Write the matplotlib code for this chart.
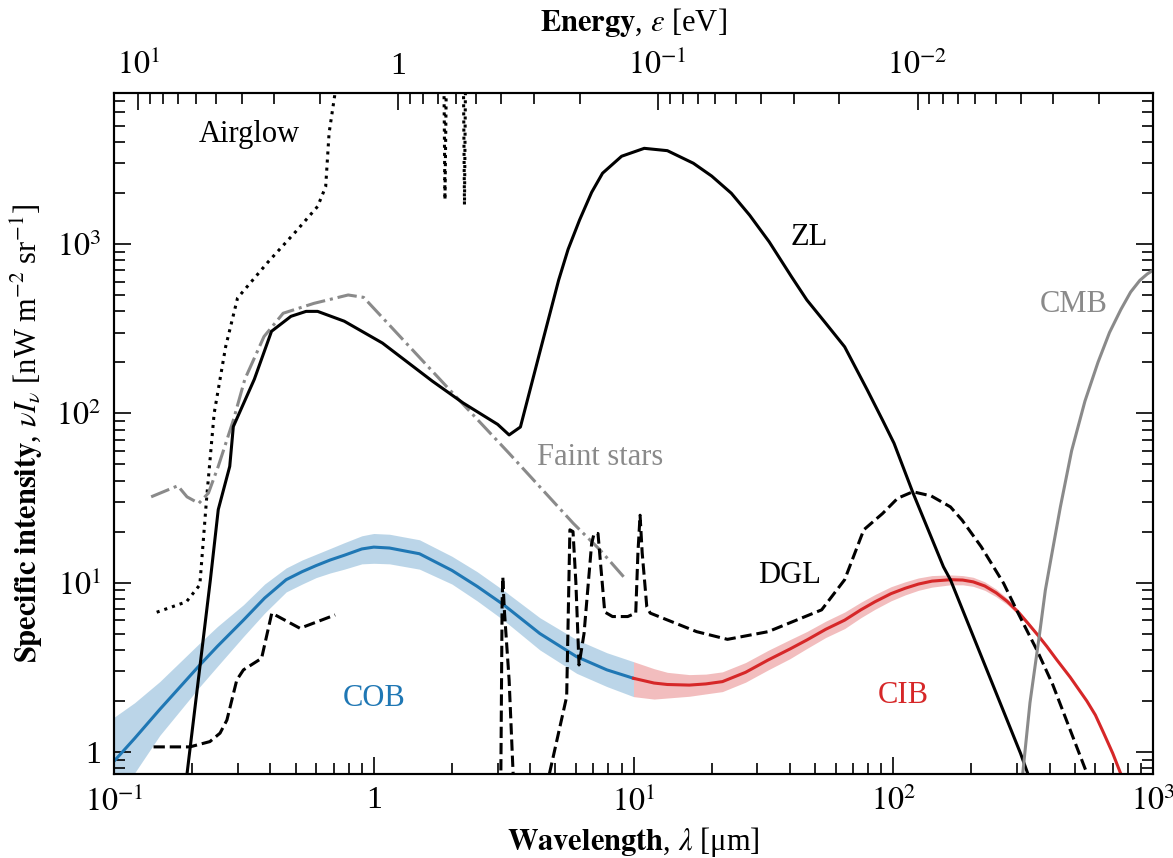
import numpy as np
import matplotlib
matplotlib.use('Agg')
import matplotlib.pyplot as plt
from matplotlib.ticker import NullFormatter, LogLocator

plt.rcParams['font.family'] = 'serif'
plt.rcParams['font.serif'] = ['Liberation Serif', 'DejaVu Serif']
plt.rcParams['mathtext.fontset'] = 'stix'

HC = 1.23984  # eV * um

# --- data (wavelength in um, nu I_nu in nW m^-2 sr^-1) ---
# zodiacal light
zl_wl = [0.191, 0.235, 0.252, 0.279, 0.288, 0.347, 0.404, 0.48, 0.549, 0.608, 0.77,
         1.08, 1.68, 2.21, 3.0, 3.32, 3.67, 4.35, 5.15, 5.6, 6.2, 6.9, 7.6, 9.0, 11.0,
         13.5, 17.0, 20.0, 23.8, 28.0, 33.3, 40.6, 46.5, 55, 65, 79.5, 91, 100.7, 119,
         156, 166, 309, 330]
zl = [0.74, 10.4, 27, 48.6, 83.5, 159, 305, 374, 400, 400, 350,
      260, 155, 115, 86, 74.5, 83, 227, 612, 930, 1387, 2020, 2620, 3300, 3675,
      3560, 3000, 2520, 1995, 1480, 1030, 640, 467, 340, 247, 137, 91, 66.5, 34,
      12.4, 10.4, 0.98, 0.74]

# airglow (NaN separates the pieces)
air_wl = [0.146, 0.19, 0.214, 0.2275, 0.243, 0.269, 0.299, 0.391, 0.5, 0.608, 0.653,
          0.673, 0.707, 0.75,
          np.nan, 1.85, 1.88, 1.92, np.nan, 2.2, 2.235, 2.27]
air = [6.68, 7.7, 9.7, 32, 100, 247, 480, 780, 1180, 1667, 2180,
       4520, 7500, 30000,
       np.nan, 30000, 1820, 30000, np.nan, 30000, 1700, 30000]

# faint stars
fs_wl = [0.139, 0.176, 0.191, 0.212, 0.231, 0.252, 0.288, 0.319, 0.378, 0.448, 0.588,
         0.797, 0.914, 2.13, 3.32, 5.86, 7.43, 9.27]
fs = [32.1, 37.3, 32.1, 29.4, 33.8, 48.6, 91, 159, 284, 390, 446,
      500, 484, 120, 58, 22.4, 15.6, 10.6]

# diffuse galactic light
dgl_wl = [0.142, 0.196, 0.234, 0.256, 0.272, 0.297, 0.315, 0.37, 0.405, 0.52, 0.71,
          np.nan, 3.08, 3.12, 3.14, 3.18, 3.32, 3.5,
          np.nan, 4.6, 5.53, 5.69, 5.85, 6.0, 6.17, 6.45, 6.9, 7.05, 7.3, 7.5, 7.75,
          8.3, 9.5, 10.2, 10.4, 10.6, 10.8, 11.25, 11.6, 17.5, 23, 33, 53, 65, 77,
          91, 104, 119, 140, 166, 184, 218, 266, 304, 360, 411, 547, 650]
dgl = [1.07, 1.07, 1.15, 1.29, 1.54, 2.66, 3.05, 3.57, 6.6, 5.37, 6.44,
       np.nan, 0.5, 7.5, 10.8, 7.0, 2.66, 0.4,
       np.nan, 0.6, 2.12, 20.5, 20.0, 10.0, 3.26, 5.0, 17.0, 19.5, 19.5, 12.0, 6.7,
       6.3, 6.3, 6.6, 15.0, 25.0, 15.0, 7.2, 6.6, 5.13, 4.62, 5.13, 6.9, 10.4, 20.5,
       25.6, 31.5, 34.4, 32.5, 28.0, 23.4, 16.3, 9.9, 6.5, 3.9, 2.5, 0.8, 0.42]

# cosmic microwave background
cmb_wl = [315, 336, 366, 385, 404, 440, 486, 547, 614, 680, 752, 820, 890, 950, 1000]
cmb = [0.74, 1.95, 5.0, 9.0, 13.6, 28, 60, 118, 200, 300, 410, 520, 610, 665, 700]

# cosmic optical background
cob_wl = [0.1, 0.12, 0.15, 0.214, 0.25, 0.315, 0.38, 0.46, 0.53, 0.6, 0.68, 0.77, 0.9,
          1.0, 1.15, 1.5, 2.0, 2.5, 3.16, 4.36, 6.04, 7.9, 10]
cob = [0.88, 1.2, 1.78, 3.26, 4.2, 6.0, 8.1, 10.4, 11.6, 12.6, 13.6, 14.5, 15.8,
       16.2, 16.0, 14.8, 11.8, 9.5, 7.4, 5.0, 3.65, 3.05, 2.72]
cob_hi = [1.6, 1.95, 2.6, 4.4, 5.5, 7.4, 9.8, 12.2, 13.6, 14.7, 15.9, 17.2, 18.9,
          19.5, 19.3, 17.9, 14.3, 11.6, 9.0, 6.2, 4.6, 3.85, 3.41]
cob_lo = [0.55, 0.75, 1.25, 2.43, 3.2, 4.8, 6.6, 8.8, 9.8, 10.7, 11.4, 12.0, 12.9,
          13.0, 12.9, 12.0, 9.8, 7.8, 6.0, 4.0, 2.91, 2.43, 2.12]

# cosmic infrared background
cib_wl = [10, 12, 13.5, 16.4, 19, 22, 27, 33, 40, 46.5, 55, 65, 75, 85, 98, 111, 125,
          141, 166, 185, 203, 225, 249, 275, 304, 330, 360, 390, 426, 480, 556, 600,
          646, 700, 752, 800]
cib = [2.72, 2.55, 2.5, 2.48, 2.52, 2.6, 2.95, 3.49, 4.05, 4.58, 5.3, 6.0, 6.9, 7.7,
       8.6, 9.25, 9.8, 10.2, 10.4, 10.35, 10.1, 9.55, 8.7, 7.73, 6.65, 5.75, 4.9, 4.2,
       3.5, 2.76, 2.0, 1.65, 1.29, 0.98, 0.74, 0.59]
cib_hi = [3.41, 3.1, 2.95, 2.86, 2.88, 2.97, 3.37, 3.98, 4.6, 5.14, 5.92, 6.7, 7.65,
          8.5, 9.45, 10.1, 10.65, 11.0, 11.1, 11.0, 10.75, 10.1, 9.15, 8.05, 6.9, 5.9,
          5.0, 4.27, 3.55, 2.79, 2.02, 1.66, 1.3, 0.99, 0.75, 0.6]
cib_lo = [2.12, 2.05, 2.08, 2.13, 2.2, 2.27, 2.58, 3.05, 3.55, 4.08, 4.74, 5.35, 6.2,
          6.95, 7.8, 8.45, 9.0, 9.4, 9.7, 9.7, 9.5, 9.0, 8.25, 7.4, 6.4, 5.6, 4.8, 4.13,
          3.45, 2.73, 1.98, 1.64, 1.28, 0.97, 0.73, 0.58]

BLUE = '#1f77b4'
RED = '#d62728'
GREY = '#8a8a8a'
LW = 2.2
FS = 22

fig = plt.figure(figsize=(11.73, 8.58), dpi=100)
ax = fig.add_axes([114 / 1173, 1 - 774 / 858, 1039 / 1173, 681 / 858])

ax.fill_between(cob_wl, cob_lo, cob_hi, color=BLUE, alpha=0.3, lw=0)
ax.plot(cob_wl, cob, color=BLUE, lw=LW)
ax.fill_between(cib_wl, cib_lo, cib_hi, color=RED, alpha=0.3, lw=0)
ax.plot(cib_wl, cib, color=RED, lw=LW)

ax.plot(air_wl, air, color='k', lw=LW, ls=':')
ax.plot(fs_wl, fs, color=GREY, lw=LW, ls='-.')
ax.plot(dgl_wl, dgl, color='k', lw=LW, ls='--')
ax.plot(zl_wl, zl, color='k', lw=LW)
ax.plot(cmb_wl, cmb, color=GREY, lw=LW)

ax.text(0.331, 4020, 'Airglow', fontsize=FS, ha='center', va='baseline')
ax.text(47.4, 990, 'ZL', fontsize=FS, ha='center', va='baseline')
ax.text(494, 398, 'CMB', fontsize=FS, ha='center', va='baseline', color=GREY)
ax.text(7.43, 49.6, 'Faint stars', fontsize=FS, ha='center', va='baseline', color=GREY)
ax.text(40, 9.9, 'DGL', fontsize=FS, ha='center', va='baseline')
ax.text(1.0, 1.87, 'COB', fontsize=FS, ha='center', va='baseline', color=BLUE)
ax.text(109, 1.94, 'CIB', fontsize=FS, ha='center', va='baseline', color=RED)

ax.set_xscale('log')
ax.set_yscale('log')
ax.set_xlim(0.1, 1000)
ax.set_ylim(0.74, 7800)

ax.set_xticks([0.1, 1, 10, 100, 1000], ['$10^{-1}$', '1', '$10^1$', '$10^2$', '$10^3$'])
ax.set_yticks([1, 10, 100, 1000], ['1', '$10^1$', '$10^2$', '$10^3$'])
ax.xaxis.set_minor_locator(LogLocator(base=10, subs=np.arange(2, 10)))
ax.yaxis.set_minor_locator(LogLocator(base=10, subs=np.arange(2, 10)))
ax.xaxis.set_minor_formatter(NullFormatter())
ax.yaxis.set_minor_formatter(NullFormatter())
ax.tick_params(which='both', direction='in', top=False, right=True, width=1.2)
ax.tick_params(which='major', length=12.5, labelsize=23, pad=9)
ax.tick_params(which='minor', length=8)

ax.set_xlabel(r'$\mathbf{Wavelength}$, $\lambda$ [μm]', fontsize=FS, labelpad=5)
ax.set_ylabel(r'$\mathbf{Specific\ intensity}$, $\nu I_\nu$ [nW m$^{-2}$ sr$^{-1}$]',
              fontsize=FS, labelpad=8)

# energy axis on top
ax2 = ax.twiny()
ax2.set_xscale('log')
ax2.set_xlim(HC / 0.1, HC / 1000)
ax2.set_xticks([10, 1, 0.1, 0.01], ['$10^1$', '1', '$10^{-1}$', '$10^{-2}$'])
ax2.xaxis.set_minor_locator(LogLocator(base=10, subs=np.arange(2, 10)))
ax2.xaxis.set_minor_formatter(NullFormatter())
ax2.tick_params(which='both', direction='in', width=1.2)
ax2.tick_params(which='major', length=12.5, labelsize=23, pad=9)
ax2.tick_params(which='minor', length=8)
ax2.set_xlabel(r'$\mathbf{Energy}$, $\epsilon$ [eV]', fontsize=FS, labelpad=13)

for a in (ax, ax2):
    for s in a.spines.values():
        s.set_linewidth(1.5)

fig.savefig('out.png', dpi=100)
